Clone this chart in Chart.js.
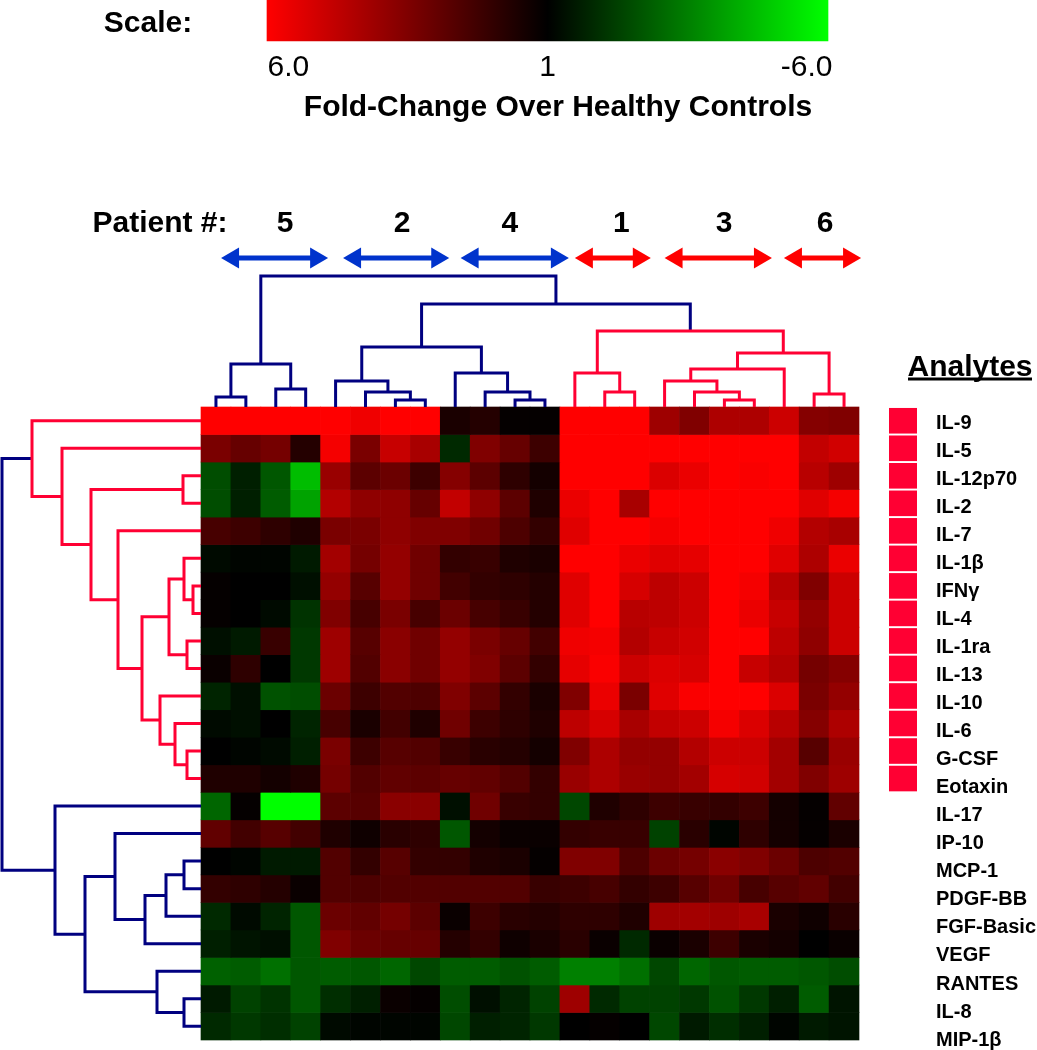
<!DOCTYPE html>
<html>
<head>
<meta charset="utf-8">
<style>html,body{margin:0;padding:0;background:#fff}canvas{display:block}</style>
<script src="https://cdn.jsdelivr.net/npm/chart.js@4"></script>
</head>
<body>
<canvas id="c" width="1037" height="1050"></canvas>
<script>
// ---- categories and tick labels ----
const analytes = ["IL-9","IL-5","IL-12p70","IL-2","IL-7","IL-1β","IFNγ","IL-4","IL-1ra","IL-13","IL-10","IL-6","G-CSF","Eotaxin","IL-17","IP-10","MCP-1","PDGF-BB","FGF-Basic","VEGF","RANTES","IL-8","MIP-1β"];
const patientLabels = ["Patient #:","5","2","4","1","3","6"];
const patientTickCols = [-1.37,2.81,6.72,10.33,14.05,17.49,20.87];
const scaleLabels = ["6.0","1","-6.0"];
const scaleTickValues = [4.62,0,-4.62];
const arrowStarts = [0.67,4.75,8.68,12.5,15.5,19.49];
const arrowEnds   = [4.25,8.3,12.3,15.04,19.09,22.07];
const arrowIsRed  = [false,false,false,true,true,true];
const markedAnalytes = [0,1,2,3,4,5,6,7,8,9,10,11,12,13];

// ---- fold change per analyte, by patient sample (22 columns) ----
const IL_9     = [6,6,6,6,6,5.7,6,6,1.5,1.7,1.1,1.1,6,6,6,4.1,3.5,4.4,4.4,5,3.6,3.5];
const IL_5     = [3.4,3,3.3,1.7,5.8,3.4,4.9,4.3,-1.8,3.5,3,2.2,6,6,6,6,6,6,6,6,4.8,5.1];
const IL_12p70 = [-2.5,-1.6,-2.7,-4.7,4,2.8,3.1,2.2,3.6,2.8,1.9,1.4,6,6,6,5.3,5.6,6,5.9,6,4.6,4.1];
const IL_2     = [-2.5,-1.6,-2.8,-4.2,4.5,3.8,3.8,3,4.8,3.8,2.8,1.6,5.6,6,4.3,6,6,6,6,6,5.4,5.8];
const IL_7     = [2.4,2.2,1.9,1.6,3.4,3.4,3.8,3.5,3.5,3.2,2.5,2,5.4,6,6,5.8,6,6,6,5.7,4.5,4.3];
const IL_1b    = [-1.2,-1.1,-1.1,-1.5,4.2,3.3,3.9,3.2,2,2.1,1.6,1.5,6,6,5.6,5.4,5.5,6,6,5.4,4.4,5.6];
const IFNg     = [1.1,1,1,-1.3,3.9,2.7,3.9,3.2,2.3,2,1.9,1.7,5.4,6,5.2,4.7,5,6,5.8,4.6,3.5,5];
const IL_4     = [1.1,1,-1.2,-2,3.5,2.4,3.4,2.4,3.1,2.4,2.1,1.7,5.4,6,4.6,4.7,5,6,5.6,4.9,3.9,5];
const IL_1ra   = [-1.3,-1.5,2.1,-2.1,4.1,2.7,3.7,3.2,3.9,3.4,3,2.3,5.7,5.8,4.5,4.9,5.1,6,6,4.7,3.8,5];
const IL_13    = [1.2,1.9,1,-2.1,4.1,2.6,3.7,3.2,3.9,3.5,2.8,2,5.5,5.9,5,5.3,5.2,6,4.9,4.5,3.3,3.6];
const IL_10    = [-1.7,-1.3,-2.6,-2.5,3.1,2.2,2.6,2.5,3.5,2.8,2,1.5,3.5,5.6,3.4,5.4,5.9,6,6,5.3,3.4,3.9];
const IL_6     = [-1.2,-1.3,1,-1.7,2.4,1.5,2.3,1.6,3.2,2.2,1.9,1.6,4.7,5.2,4.3,4.8,5,5.8,5.3,4.6,3.6,4.4];
const G_CSF    = [1,-1.1,-1.2,-1.6,3.4,2.2,2.7,2.6,2.1,1.8,1.7,1.4,3.5,4.4,3.9,3.9,4.5,5,5,4.2,2.7,4];
const Eotaxin  = [1.6,1.6,1.4,1.6,3.3,2.6,2.9,2.8,3,2.9,2.6,2,4,4.4,4,3.9,4.2,5.2,5.1,4.2,3.5,4.1];
const IL_17    = [-3,1.1,-6,-6,2.8,2.7,3.7,3.7,-1.3,3.2,2.1,2,-2.4,1.6,1.9,2.2,2.1,2,2.2,1.4,1.1,2.9];
const IP_10    = [2.9,2.3,2.7,2.3,1.6,1.3,1.8,1.9,-2.7,1.4,1.2,1.2,2,2.1,2.1,-2.3,1.8,-1.1,1.9,1.4,1.1,1.5];
const MCP_1    = [1,-1.1,-1.5,-1.5,2.6,2,2.7,2,2,1.6,1.5,1.1,3.5,3.5,2.5,3.1,3.3,3.7,3.5,3.1,2.5,2.6];
const PDGF_BB  = [2,1.9,1.7,1.2,2.6,2.5,2.6,2.6,2.6,2.6,2.6,2.1,2.2,2.4,2,2.2,2.7,3.2,2.4,2.7,2.9,2.3];
const FGF_Basic= [-1.8,-1.2,-1.7,-2.7,3.1,2.9,3.3,2.8,1.2,2.2,1.8,1.7,1.9,1.9,1.6,4.1,4.2,4.1,4.3,1.5,1.3,1.8];
const VEGF     = [-1.6,-1.4,-1.3,-2.7,3.5,3.1,3,3,1.7,2,1.3,1.5,1.8,1.2,-1.8,1.2,1.5,2.2,1.5,1.4,1,1.2];
const RANTES   = [-2.9,-2.8,-3.2,-2.7,-2.8,-2.7,-3,-2.4,-2.8,-2.8,-2.6,-2.8,-3.5,-3.5,-3.2,-2.4,-3,-2.7,-2.8,-2.8,-2.7,-2.5];
const IL_8     = [-1.5,-2.3,-2,-2.7,-1.9,-1.6,1.2,1.1,-2.5,-1.3,-1.7,-2.3,4.1,-1.8,-2.3,-2.3,-2.1,-2.6,-2.1,-1.6,-2.8,-1.4];
const MIP_1b   = [-1.8,-2.1,-1.9,-2.3,-1.2,-1.1,-1.1,-1.1,-2.4,-1.6,-1.7,-2.1,1,1.1,1,-2.4,-1.5,-1.9,-1.6,-1.1,-1.5,-1.4];
const foldRows = [IL_9,IL_5,IL_12p70,IL_2,IL_7,IL_1b,IFNg,IL_4,IL_1ra,IL_13,IL_10,IL_6,G_CSF,Eotaxin,IL_17,IP_10,MCP_1,PDGF_BB,FGF_Basic,VEGF,RANTES,IL_8,MIP_1b];

// ---- clustering trees: [merge distance, branch, branch]; a number is a leaf ----
const colRedCluster = [76,[34,12,[15,13,14]],[54,[38,[26,15,[15,16,[7,17,18]]],19],[13,20,21]]];
const colTree = [131,[43,[10,0,1],[18,2,3]],[103,[60,[26,4,[15,5,[7,6,7]]],[34,8,[15,9,[7,10,11]]]],colRedCluster]];
const rowRedCluster = [169,0,[139,1,[110,[18,2,3],[83,4,[59,[32,[17,5,[8,6,7]],[14,8,9]],[41,10,[26,11,[14,12,13]]]]]]]];
const rowTree = [199,rowRedCluster,[146,14,[116,[86,15,[56,[35,[17,16,17],18],19]],[44,20,[17,21,22]]]]];

// ---- page geometry: one plot area covers the canvas, in heatmap cell units ----
const W=1037,H=1050,LEFT=201,TOP=407,CW=658/22,CH=633/23;
const colAt=px=>(px-LEFT)/CW, rowAt=px=>(px-TOP)/CH;
const RED="#ff0033",NAVY="#000080",ARIAL="'Liberation Sans',Arial,sans-serif";
const BIG={family:ARIAL,size:30,weight:"bold"};
const colorFor=v=>{const l=Math.round((Math.abs(v)-1)/5*255);return v>=0?`rgb(${l},0,0)`:`rgb(0,${l},0)`;};

const rangeX={min:colAt(0),max:colAt(W)}, rangeY={min:rowAt(0),max:rowAt(H),reverse:true};
const hidden=r=>Object.assign({type:"linear",display:false,offset:false},r);
// label axes take no room in the layout: the plot area stays the whole canvas
const noRoom=s=>{s.width=s.isHorizontal()?s.width:0;s.height=s.isHorizontal()?0:s.height;s.paddingLeft=s.paddingRight=s.paddingTop=s.paddingBottom=0;};
function textAxis(range,centerPx,font,values,labels){
  return Object.assign({type:"linear",axis:"x",offset:false,position:{y:rowAt(centerPx+2-font.size*0.6)},afterFit:noRoom,
    afterBuildTicks:s=>{s.ticks=values.map(v=>({value:v}));},
    ticks:{callback:(v,i)=>labels[i],font,color:"#000",padding:0,autoSkip:false,maxRotation:0,minRotation:0},
    grid:{display:false,drawTicks:false},border:{display:false}},range);
}
// the colour bar axis runs over (fold change - 1), red on the left
const BAR_L=267,BAR_R=828;
const barUnit=(BAR_R-BAR_L)/10;
const rangeBar={min:5-(W-BAR_L)/barUnit,max:5+BAR_L/barUnit,reverse:true};

// ---- datasets ----
const datasets=[];
const lineBase={type:"scatter",showLine:true,pointRadius:0,borderWidth:3,xAxisID:"x",yAxisID:"y",clip:false,spanGaps:false,tension:0,borderJoinStyle:"miter"};
function walk(node,list,redNode,redList,coordinate){
  if(typeof node==="number")return {pos:node+.5,d:0};
  const own=node===redNode?redList:list;
  const a=walk(node[1],own,redNode,redList,coordinate),b=walk(node[2],own,redNode,redList,coordinate),d=node[0];
  own.push(coordinate(a.pos,a.d),coordinate(a.pos,d),coordinate(b.pos,d),coordinate(b.pos,b.d),{x:NaN,y:NaN});
  return {pos:(a.pos+b.pos)/2,d};
}
[[colTree,colRedCluster,(p,d)=>({x:p,y:-d/CH})],[rowTree,rowRedCluster,(p,d)=>({x:-d/CW,y:p})]].forEach(([tree,red,coord])=>{
  const blue=[],crimson=[];
  walk(tree,blue,red,crimson,coord);
  datasets.push(Object.assign({},lineBase,{data:crimson,borderColor:RED}));
  datasets.push(Object.assign({},lineBase,{data:blue,borderColor:NAVY}));
});
// patient arrows
arrowStarts.forEach((s,i)=>{
  const col=arrowIsRed[i]?"#ff0000":"#0033cc", head=12/CW;
  datasets.push(Object.assign({},lineBase,{data:[{x:s+head,y:rowAt(258)},{x:arrowEnds[i]-head,y:rowAt(258)}],
    borderColor:col,backgroundColor:col,borderWidth:5,pointStyle:"triangle",pointRadius:12,pointBorderWidth:0,pointRotation:[-90,90]}));
});
// underline of the "Analytes" heading
datasets.push(Object.assign({},lineBase,{data:[{x:colAt(908),y:rowAt(379)},{x:colAt(1032),y:rowAt(379)}],borderColor:"#000"}));
// heatmap cells
foldRows.forEach((row,r)=>{
  datasets.push({type:"bar",grouped:false,xAxisID:"x",yAxisID:"y",barPercentage:1,categoryPercentage:1,borderWidth:0,
    label:analytes[r],data:row.map((v,c)=>({x:c+.5,y:[r,r+1],fold:v})),backgroundColor:row.map(colorFor)});
});
// analyte cluster key
datasets.push({type:"bar",indexAxis:"y",grouped:false,xAxisID:"xKey",yAxisID:"yKey",barPercentage:.93,categoryPercentage:1,borderWidth:0,
  data:markedAnalytes.map(r=>({x:[colAt(889),colAt(917)],y:r+.5})),backgroundColor:RED});
// colour scale
datasets.push({type:"bar",indexAxis:"y",grouped:false,xAxisID:"xBar",yAxisID:"yBar",barPercentage:1,categoryPercentage:1,borderWidth:0,maxBarThickness:41,
  data:[{x:[5,-5],y:rowAt(20.5)}],
  backgroundColor:ctx=>{
    const s=ctx.chart.scales.xBar;
    const a=s?s.getPixelForValue(5):NaN,b=s?s.getPixelForValue(-5):NaN;
    if(!Number.isFinite(a)||!Number.isFinite(b))return "#000";
    const g=ctx.chart.ctx.createLinearGradient(a,0,b,0);
    g.addColorStop(0,colorFor(6));g.addColorStop(.5,colorFor(1));g.addColorStop(1,colorFor(-6));
    return g;
  }});

new Chart(document.getElementById("c"),{
  type:"bar",
  data:{datasets},
  options:{
    responsive:false,animation:false,events:[],
    layout:{padding:0,autoPadding:false},
    plugins:{legend:{display:false},tooltip:{enabled:false},title:{display:false}},
    scales:{
      x:hidden(rangeX),y:hidden(rangeY),
      xKey:hidden(Object.assign({axis:"x"},rangeX)),yKey:hidden(Object.assign({axis:"y"},rangeY)),
      xBar:hidden(Object.assign({axis:"x"},rangeBar)),yBar:hidden(Object.assign({axis:"y"},rangeY)),
      xPatient:textAxis(rangeX,222,BIG,patientTickCols,patientLabels),
      xScaleTitle:textAxis(rangeX,22,BIG,[colAt(148)],["Scale:"]),
      xScaleTicks:textAxis(rangeBar,66,{family:ARIAL,size:30},scaleTickValues,scaleLabels),
      xFold:textAxis(rangeX,106,BIG,[colAt(558)],["Fold-Change Over Healthy Controls"]),
      xHeading:textAxis(rangeX,366,BIG,[colAt(970)],["Analytes"]),
      yAnalytes:{type:"linear",axis:"y",offset:false,position:"left",reverse:true,min:-423/28.05,max:(H-423)/28.05,afterFit:noRoom,
        afterBuildTicks:s=>{s.ticks=analytes.map((_,i)=>({value:i}));},
        ticks:{callback:(v,i)=>analytes[i],mirror:true,padding:936,font:{family:ARIAL,size:20,weight:"bold"},color:"#000",autoSkip:false},
        grid:{display:false,drawTicks:false},border:{display:false}}
    }
  }
});
</script>
</body>
</html>
